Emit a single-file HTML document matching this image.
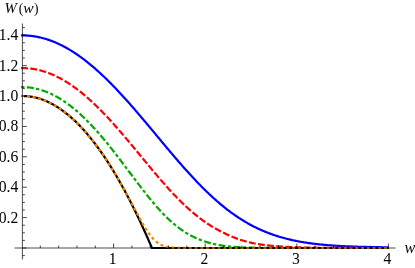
<!DOCTYPE html>
<html><head><meta charset="utf-8"><style>
html,body{margin:0;padding:0;background:#fff;}
svg{display:block;will-change:transform;}
text{font-family:"Liberation Serif",serif;font-size:15px;fill:#000;}
</style></head><body>
<svg width="415" height="268" viewBox="0 0 415 268">
<rect width="415" height="268" fill="#fff"/>
<g fill="none" stroke-width="2.2" stroke-linejoin="round">
<path d="M21.13 35.43 L22.05 35.42 L22.96 35.42 L23.88 35.43 L24.80 35.45 L25.72 35.49 L26.64 35.53 L27.56 35.59 L28.48 35.65 L29.40 35.73 L30.31 35.82 L31.23 35.92 L32.15 36.03 L33.07 36.15 L33.99 36.29 L34.91 36.43 L35.83 36.58 L36.75 36.75 L37.66 36.93 L38.58 37.12 L39.50 37.31 L40.42 37.52 L41.34 37.75 L42.26 37.98 L43.18 38.22 L44.10 38.47 L45.01 38.74 L45.93 39.01 L46.85 39.30 L47.77 39.59 L48.69 39.90 L49.61 40.22 L50.53 40.55 L51.45 40.89 L52.36 41.24 L53.28 41.60 L54.20 41.97 L55.12 42.35 L56.04 42.75 L56.96 43.15 L57.88 43.56 L58.80 43.99 L59.71 44.42 L60.63 44.87 L61.55 45.32 L62.47 45.79 L63.39 46.26 L64.31 46.75 L65.23 47.24 L66.14 47.75 L67.06 48.27 L67.98 48.79 L68.90 49.33 L69.82 49.87 L70.74 50.43 L71.66 51.00 L72.58 51.57 L73.49 52.16 L74.41 52.75 L75.33 53.36 L76.25 53.97 L77.17 54.60 L78.09 55.23 L79.01 55.87 L79.93 56.53 L80.84 57.19 L81.76 57.86 L82.68 58.54 L83.60 59.23 L84.52 59.93 L85.44 60.64 L86.36 61.35 L87.28 62.08 L88.19 62.81 L89.11 63.55 L90.03 64.30 L90.95 65.07 L91.87 65.83 L92.79 66.61 L93.71 67.40 L94.63 68.19 L95.54 68.99 L96.46 69.80 L97.38 70.62 L98.30 71.45 L99.22 72.28 L100.14 73.12 L101.06 73.97 L101.98 74.83 L102.89 75.69 L103.81 76.56 L104.73 77.44 L105.65 78.33 L106.57 79.22 L107.49 80.12 L108.41 81.03 L109.33 81.95 L110.24 82.87 L111.16 83.80 L112.08 84.73 L113.00 85.67 L113.92 86.62 L114.84 87.57 L115.76 88.53 L116.68 89.50 L117.59 90.47 L118.51 91.45 L119.43 92.43 L120.35 93.42 L121.27 94.41 L122.19 95.41 L123.11 96.42 L124.03 97.43 L124.94 98.44 L125.86 99.46 L126.78 100.49 L127.70 101.52 L128.62 102.55 L129.54 103.59 L130.46 104.63 L131.37 105.68 L132.29 106.73 L133.21 107.78 L134.13 108.84 L135.05 109.90 L135.97 110.97 L136.89 112.04 L137.81 113.11 L138.72 114.18 L139.64 115.26 L140.56 116.34 L141.48 117.42 L142.40 118.51 L143.32 119.60 L144.24 120.69 L145.16 121.78 L146.07 122.87 L146.99 123.97 L147.91 125.06 L148.83 126.16 L149.75 127.26 L150.67 128.36 L151.59 129.46 L152.51 130.57 L153.42 131.67 L154.34 132.78 L155.26 133.88 L156.18 134.98 L157.10 136.09 L158.02 137.19 L158.94 138.30 L159.86 139.40 L160.77 140.50 L161.69 141.61 L162.61 142.71 L163.53 143.81 L164.45 144.91 L165.37 146.01 L166.29 147.10 L167.21 148.20 L168.12 149.29 L169.04 150.38 L169.96 151.47 L170.88 152.56 L171.80 153.65 L172.72 154.73 L173.64 155.81 L174.56 156.88 L175.47 157.96 L176.39 159.03 L177.31 160.09 L178.23 161.16 L179.15 162.22 L180.07 163.27 L180.99 164.33 L181.91 165.38 L182.82 166.42 L183.74 167.46 L184.66 168.49 L185.58 169.53 L186.50 170.55 L187.42 171.57 L188.34 172.59 L189.26 173.60 L190.17 174.61 L191.09 175.61 L192.01 176.60 L192.93 177.59 L193.85 178.57 L194.77 179.55 L195.69 180.52 L196.60 181.49 L197.52 182.45 L198.44 183.40 L199.36 184.35 L200.28 185.29 L201.20 186.22 L202.12 187.15 L203.04 188.06 L203.95 188.98 L204.87 189.88 L205.79 190.78 L206.71 191.67 L207.63 192.56 L208.55 193.43 L209.47 194.30 L210.39 195.16 L211.30 196.02 L212.22 196.86 L213.14 197.70 L214.06 198.53 L214.98 199.35 L215.90 200.17 L216.82 200.97 L217.74 201.77 L218.65 202.56 L219.57 203.35 L220.49 204.12 L221.41 204.89 L222.33 205.64 L223.25 206.39 L224.17 207.13 L225.09 207.87 L226.00 208.59 L226.92 209.30 L227.84 210.01 L228.76 210.71 L229.68 211.40 L230.60 212.08 L231.52 212.76 L232.44 213.42 L233.35 214.08 L234.27 214.72 L235.19 215.36 L236.11 215.99 L237.03 216.62 L237.95 217.23 L238.87 217.84 L239.79 218.43 L240.70 219.02 L241.62 219.60 L242.54 220.17 L243.46 220.74 L244.38 221.29 L245.30 221.84 L246.22 222.38 L247.14 222.91 L248.05 223.43 L248.97 223.94 L249.89 224.45 L250.81 224.95 L251.73 225.44 L252.65 225.92 L253.57 226.40 L254.49 226.86 L255.40 227.32 L256.32 227.77 L257.24 228.21 L258.16 228.65 L259.08 229.08 L260.00 229.50 L260.92 229.91 L261.83 230.32 L262.75 230.72 L263.67 231.11 L264.59 231.49 L265.51 231.87 L266.43 232.24 L267.35 232.60 L268.27 232.96 L269.18 233.31 L270.10 233.65 L271.02 233.99 L271.94 234.32 L272.86 234.64 L273.78 234.96 L274.70 235.27 L275.62 235.57 L276.53 235.87 L277.45 236.16 L278.37 236.45 L279.29 236.73 L280.21 237.00 L281.13 237.27 L282.05 237.54 L282.97 237.79 L283.88 238.04 L284.80 238.29 L285.72 238.53 L286.64 238.77 L287.56 239.00 L288.48 239.22 L289.40 239.44 L290.32 239.66 L291.23 239.87 L292.15 240.07 L293.07 240.28 L293.99 240.47 L294.91 240.66 L295.83 240.85 L296.75 241.03 L297.67 241.21 L298.58 241.39 L299.50 241.56 L300.42 241.72 L301.34 241.88 L302.26 242.04 L303.18 242.20 L304.10 242.35 L305.02 242.49 L305.93 242.64 L306.85 242.78 L307.77 242.91 L308.69 243.04 L309.61 243.17 L310.53 243.30 L311.45 243.42 L312.37 243.54 L313.28 243.66 L314.20 243.77 L315.12 243.88 L316.04 243.99 L316.96 244.10 L317.88 244.20 L318.80 244.30 L319.72 244.39 L320.63 244.49 L321.55 244.58 L322.47 244.67 L323.39 244.76 L324.31 244.84 L325.23 244.92 L326.15 245.00 L327.06 245.08 L327.98 245.16 L328.90 245.23 L329.82 245.30 L330.74 245.37 L331.66 245.44 L332.58 245.50 L333.50 245.57 L334.41 245.63 L335.33 245.69 L336.25 245.75 L337.17 245.81 L338.09 245.86 L339.01 245.92 L339.93 245.97 L340.85 246.02 L341.76 246.07 L342.68 246.12 L343.60 246.16 L344.52 246.21 L345.44 246.25 L346.36 246.30 L347.28 246.34 L348.20 246.38 L349.11 246.42 L350.03 246.45 L350.95 246.49 L351.87 246.53 L352.79 246.56 L353.71 246.59 L354.63 246.63 L355.55 246.66 L356.46 246.69 L357.38 246.72 L358.30 246.75 L359.22 246.78 L360.14 246.80 L361.06 246.83 L361.98 246.85 L362.90 246.88 L363.81 246.90 L364.73 246.93 L365.65 246.95 L366.57 246.97 L367.49 246.99 L368.41 247.01 L369.33 247.03 L370.25 247.05 L371.16 247.07 L372.08 247.09 L373.00 247.10 L373.92 247.12 L374.84 247.14 L375.76 247.15 L376.68 247.17 L377.60 247.18 L378.51 247.20 L379.43 247.21 L380.35 247.22 L381.27 247.24 L382.19 247.25 L383.11 247.26 L384.03 247.27 L384.95 247.29 L385.86 247.30 L386.78 247.31 L387.70 247.32 L388.62 247.33" stroke="#0000ff"/>
<path d="M21.13 68.12 L22.05 68.11 L22.96 68.11 L23.88 68.12 L24.80 68.15 L25.72 68.18 L26.64 68.23 L27.56 68.29 L28.48 68.37 L29.40 68.45 L30.31 68.55 L31.23 68.66 L32.15 68.79 L33.07 68.92 L33.99 69.07 L34.91 69.23 L35.83 69.40 L36.75 69.58 L37.66 69.78 L38.58 69.99 L39.50 70.21 L40.42 70.44 L41.34 70.69 L42.26 70.94 L43.18 71.21 L44.10 71.49 L45.01 71.79 L45.93 72.09 L46.85 72.41 L47.77 72.74 L48.69 73.08 L49.61 73.43 L50.53 73.80 L51.45 74.17 L52.36 74.56 L53.28 74.96 L54.20 75.37 L55.12 75.80 L56.04 76.23 L56.96 76.68 L57.88 77.14 L58.80 77.61 L59.71 78.09 L60.63 78.58 L61.55 79.09 L62.47 79.60 L63.39 80.13 L64.31 80.67 L65.23 81.21 L66.14 81.78 L67.06 82.35 L67.98 82.93 L68.90 83.52 L69.82 84.13 L70.74 84.74 L71.66 85.37 L72.58 86.00 L73.49 86.65 L74.41 87.31 L75.33 87.98 L76.25 88.66 L77.17 89.35 L78.09 90.05 L79.01 90.76 L79.93 91.48 L80.84 92.21 L81.76 92.95 L82.68 93.70 L83.60 94.46 L84.52 95.23 L85.44 96.00 L86.36 96.79 L87.28 97.59 L88.19 98.40 L89.11 99.22 L90.03 100.04 L90.95 100.88 L91.87 101.72 L92.79 102.57 L93.71 103.44 L94.63 104.31 L95.54 105.19 L96.46 106.07 L97.38 106.97 L98.30 107.87 L99.22 108.78 L100.14 109.70 L101.06 110.63 L101.98 111.57 L102.89 112.51 L103.81 113.46 L104.73 114.42 L105.65 115.38 L106.57 116.36 L107.49 117.34 L108.41 118.32 L109.33 119.31 L110.24 120.31 L111.16 121.32 L112.08 122.33 L113.00 123.35 L113.92 124.37 L114.84 125.40 L115.76 126.43 L116.68 127.47 L117.59 128.52 L118.51 129.57 L119.43 130.62 L120.35 131.68 L121.27 132.75 L122.19 133.81 L123.11 134.89 L124.03 135.96 L124.94 137.04 L125.86 138.13 L126.78 139.21 L127.70 140.30 L128.62 141.40 L129.54 142.49 L130.46 143.59 L131.37 144.69 L132.29 145.80 L133.21 146.90 L134.13 148.01 L135.05 149.12 L135.97 150.23 L136.89 151.34 L137.81 152.45 L138.72 153.56 L139.64 154.68 L140.56 155.79 L141.48 156.90 L142.40 158.02 L143.32 159.13 L144.24 160.24 L145.16 161.35 L146.07 162.47 L146.99 163.57 L147.91 164.68 L148.83 165.79 L149.75 166.89 L150.67 167.99 L151.59 169.09 L152.51 170.19 L153.42 171.28 L154.34 172.38 L155.26 173.46 L156.18 174.55 L157.10 175.63 L158.02 176.70 L158.94 177.77 L159.86 178.84 L160.77 179.90 L161.69 180.96 L162.61 182.02 L163.53 183.06 L164.45 184.10 L165.37 185.14 L166.29 186.17 L167.21 187.19 L168.12 188.21 L169.04 189.22 L169.96 190.23 L170.88 191.22 L171.80 192.21 L172.72 193.20 L173.64 194.17 L174.56 195.14 L175.47 196.10 L176.39 197.05 L177.31 197.99 L178.23 198.93 L179.15 199.86 L180.07 200.77 L180.99 201.68 L181.91 202.58 L182.82 203.47 L183.74 204.36 L184.66 205.23 L185.58 206.09 L186.50 206.94 L187.42 207.79 L188.34 208.62 L189.26 209.44 L190.17 210.26 L191.09 211.06 L192.01 211.86 L192.93 212.64 L193.85 213.41 L194.77 214.17 L195.69 214.93 L196.60 215.67 L197.52 216.40 L198.44 217.12 L199.36 217.83 L200.28 218.53 L201.20 219.22 L202.12 219.89 L203.04 220.56 L203.95 221.22 L204.87 221.86 L205.79 222.50 L206.71 223.12 L207.63 223.74 L208.55 224.34 L209.47 224.93 L210.39 225.51 L211.30 226.08 L212.22 226.65 L213.14 227.20 L214.06 227.74 L214.98 228.27 L215.90 228.79 L216.82 229.29 L217.74 229.79 L218.65 230.28 L219.57 230.76 L220.49 231.24 L221.41 231.71 L222.33 232.17 L223.25 232.63 L224.17 233.08 L225.09 233.52 L226.00 233.96 L226.92 234.39 L227.84 234.81 L228.76 235.23 L229.68 235.63 L230.60 236.03 L231.52 236.43 L232.44 236.81 L233.35 237.18 L234.27 237.55 L235.19 237.91 L236.11 238.26 L237.03 238.60 L237.95 238.93 L238.87 239.26 L239.79 239.57 L240.70 239.88 L241.62 240.17 L242.54 240.46 L243.46 240.74 L244.38 241.01 L245.30 241.27 L246.22 241.53 L247.14 241.77 L248.05 242.01 L248.97 242.24 L249.89 242.46 L250.81 242.68 L251.73 242.88 L252.65 243.08 L253.57 243.27 L254.49 243.46 L255.40 243.63 L256.32 243.80 L257.24 243.96 L258.16 244.12 L259.08 244.27 L260.00 244.41 L260.92 244.55 L261.83 244.68 L262.75 244.81 L263.67 244.93 L264.59 245.04 L265.51 245.15 L266.43 245.25 L267.35 245.36 L268.27 245.46 L269.18 245.55 L270.10 245.64 L271.02 245.73 L271.94 245.82 L272.86 245.90 L273.78 245.98 L274.70 246.06 L275.62 246.13 L276.53 246.20 L277.45 246.27 L278.37 246.34 L279.29 246.41 L280.21 246.47 L281.13 246.53 L282.05 246.59 L282.97 246.64 L283.88 246.70 L284.80 246.75 L285.72 246.80 L286.64 246.85 L287.56 246.89 L288.48 246.94 L289.40 246.98 L290.32 247.02 L291.23 247.06 L292.15 247.10 L293.07 247.14 L293.99 247.17 L294.91 247.21 L295.83 247.24 L296.75 247.27 L297.67 247.30 L298.58 247.33 L299.50 247.36 L300.42 247.39 L301.34 247.41 L302.26 247.44 L303.18 247.46 L304.10 247.49 L305.02 247.51 L305.93 247.53 L306.85 247.55 L307.77 247.57 L308.69 247.59 L309.61 247.61 L310.53 247.62 L311.45 247.64 L312.37 247.66 L313.28 247.67 L314.20 247.69 L315.12 247.70 L316.04 247.71 L316.96 247.73 L317.88 247.74 L318.80 247.75 L319.72 247.76 L320.63 247.77 L321.55 247.78 L322.47 247.79 L323.39 247.80 L324.31 247.81 L325.23 247.82 L326.15 247.83 L327.06 247.84 L327.98 247.84 L328.90 247.85 L329.82 247.86 L330.74 247.87 L331.66 247.87 L332.58 247.88 L333.50 247.88 L334.41 247.89 L335.33 247.89 L336.25 247.90 L337.17 247.90 L338.09 247.91 L339.01 247.91 L339.93 247.92 L340.85 247.92 L341.76 247.93 L342.68 247.93 L343.60 247.93 L344.52 247.94 L345.44 247.94 L346.36 247.94 L347.28 247.94 L348.20 247.95 L349.11 247.95 L350.03 247.95 L350.95 247.96 L351.87 247.96 L352.79 247.96 L353.71 247.96 L354.63 247.96 L355.55 247.97 L356.46 247.97 L357.38 247.97 L358.30 247.97 L359.22 247.97 L360.14 247.97 L361.06 247.97 L361.98 247.98 L362.90 247.98 L363.81 247.98 L364.73 247.98 L365.65 247.98 L366.57 247.98 L367.49 247.98 L368.41 247.98 L369.33 247.98 L370.25 247.99 L371.16 247.99 L372.08 247.99 L373.00 247.99 L373.92 247.99 L374.84 247.99 L375.76 247.99 L376.68 247.99 L377.60 247.99 L378.51 247.99 L379.43 247.99 L380.35 247.99 L381.27 247.99 L382.19 247.99 L383.11 247.99 L384.03 247.99 L384.95 247.99 L385.86 247.99 L386.78 247.99 L387.70 247.99 L388.62 248.00" stroke="#ff0000" stroke-dasharray="6.9 2.3"/>
<path d="M21.13 87.15 L22.05 87.13 L22.96 87.13 L23.88 87.15 L24.80 87.17 L25.72 87.22 L26.64 87.27 L27.56 87.34 L28.48 87.43 L29.40 87.53 L30.31 87.64 L31.23 87.76 L32.15 87.90 L33.07 88.06 L33.99 88.23 L34.91 88.41 L35.83 88.60 L36.75 88.81 L37.66 89.04 L38.58 89.27 L39.50 89.53 L40.42 89.79 L41.34 90.07 L42.26 90.36 L43.18 90.67 L44.10 90.99 L45.01 91.32 L45.93 91.67 L46.85 92.03 L47.77 92.41 L48.69 92.80 L49.61 93.20 L50.53 93.62 L51.45 94.05 L52.36 94.49 L53.28 94.95 L54.20 95.42 L55.12 95.90 L56.04 96.40 L56.96 96.91 L57.88 97.43 L58.80 97.97 L59.71 98.52 L60.63 99.09 L61.55 99.66 L62.47 100.25 L63.39 100.86 L64.31 101.47 L65.23 102.10 L66.14 102.74 L67.06 103.40 L67.98 104.07 L68.90 104.75 L69.82 105.44 L70.74 106.15 L71.66 106.87 L72.58 107.60 L73.49 108.34 L74.41 109.10 L75.33 109.87 L76.25 110.65 L77.17 111.44 L78.09 112.24 L79.01 113.06 L79.93 113.89 L80.84 114.73 L81.76 115.58 L82.68 116.44 L83.60 117.32 L84.52 118.20 L85.44 119.10 L86.36 120.01 L87.28 120.93 L88.19 121.86 L89.11 122.80 L90.03 123.75 L90.95 124.72 L91.87 125.69 L92.79 126.67 L93.71 127.67 L94.63 128.67 L95.54 129.68 L96.46 130.71 L97.38 131.74 L98.30 132.78 L99.22 133.83 L100.14 134.89 L101.06 135.96 L101.98 137.04 L102.89 138.13 L103.81 139.22 L104.73 140.32 L105.65 141.44 L106.57 142.55 L107.49 143.68 L108.41 144.81 L109.33 145.95 L110.24 147.10 L111.16 148.25 L112.08 149.41 L113.00 150.58 L113.92 151.75 L114.84 152.93 L115.76 154.11 L116.68 155.30 L117.59 156.49 L118.51 157.69 L119.43 158.89 L120.35 160.09 L121.27 161.30 L122.19 162.51 L123.11 163.72 L124.03 164.94 L124.94 166.16 L125.86 167.38 L126.78 168.60 L127.70 169.82 L128.62 171.05 L129.54 172.27 L130.46 173.49 L131.37 174.72 L132.29 175.94 L133.21 177.16 L134.13 178.38 L135.05 179.60 L135.97 180.82 L136.89 182.03 L137.81 183.24 L138.72 184.45 L139.64 185.65 L140.56 186.85 L141.48 188.04 L142.40 189.23 L143.32 190.41 L144.24 191.59 L145.16 192.76 L146.07 193.92 L146.99 195.08 L147.91 196.22 L148.83 197.36 L149.75 198.50 L150.67 199.62 L151.59 200.73 L152.51 201.83 L153.42 202.93 L154.34 204.01 L155.26 205.08 L156.18 206.14 L157.10 207.19 L158.02 208.22 L158.94 209.25 L159.86 210.26 L160.77 211.25 L161.69 212.24 L162.61 213.21 L163.53 214.17 L164.45 215.11 L165.37 216.04 L166.29 216.95 L167.21 217.85 L168.12 218.73 L169.04 219.60 L169.96 220.46 L170.88 221.29 L171.80 222.11 L172.72 222.92 L173.64 223.71 L174.56 224.48 L175.47 225.24 L176.39 225.98 L177.31 226.71 L178.23 227.42 L179.15 228.11 L180.07 228.79 L180.99 229.45 L181.91 230.09 L182.82 230.72 L183.74 231.34 L184.66 231.93 L185.58 232.51 L186.50 233.08 L187.42 233.63 L188.34 234.17 L189.26 234.68 L190.17 235.19 L191.09 235.68 L192.01 236.16 L192.93 236.62 L193.85 237.06 L194.77 237.50 L195.69 237.92 L196.60 238.32 L197.52 238.72 L198.44 239.10 L199.36 239.47 L200.28 239.84 L201.20 240.19 L202.12 240.53 L203.04 240.86 L203.95 241.18 L204.87 241.49 L205.79 241.79 L206.71 242.08 L207.63 242.36 L208.55 242.63 L209.47 242.89 L210.39 243.14 L211.30 243.38 L212.22 243.61 L213.14 243.83 L214.06 244.04 L214.98 244.24 L215.90 244.44 L216.82 244.63 L217.74 244.80 L218.65 244.98 L219.57 245.14 L220.49 245.29 L221.41 245.44 L222.33 245.58 L223.25 245.72 L224.17 245.84 L225.09 245.96 L226.00 246.08 L226.92 246.19 L227.84 246.29 L228.76 246.39 L229.68 246.48 L230.60 246.57 L231.52 246.65 L232.44 246.73 L233.35 246.80 L234.27 246.87 L235.19 246.94 L236.11 247.00 L237.03 247.06 L237.95 247.11 L238.87 247.16 L239.79 247.21 L240.70 247.26 L241.62 247.30 L242.54 247.34 L243.46 247.38 L244.38 247.41 L245.30 247.45 L246.22 247.48 L247.14 247.51 L248.05 247.54 L248.97 247.56 L249.89 247.59 L250.81 247.61 L251.73 247.64 L252.65 247.66 L253.57 247.68 L254.49 247.70 L255.40 247.72 L256.32 247.73 L257.24 247.75 L258.16 247.76 L259.08 247.78 L260.00 247.79 L260.92 247.81 L261.83 247.82 L262.75 247.83 L263.67 247.84 L264.59 247.85 L265.51 247.86 L266.43 247.87 L267.35 247.88 L268.27 247.88 L269.18 247.89 L270.10 247.90 L271.02 247.90 L271.94 247.91 L272.86 247.92 L273.78 247.92 L274.70 247.93 L275.62 247.93 L276.53 247.94 L277.45 247.94 L278.37 247.94 L279.29 247.95 L280.21 247.95 L281.13 247.95 L282.05 247.96 L282.97 247.96 L283.88 247.96 L284.80 247.97 L285.72 247.97 L286.64 247.97 L287.56 247.97 L288.48 247.97 L289.40 247.98 L290.32 247.98 L291.23 247.98 L292.15 247.98 L293.07 247.98 L293.99 247.98 L294.91 247.98 L295.83 247.99 L296.75 247.99 L297.67 247.99 L298.58 247.99 L299.50 247.99 L300.42 247.99 L301.34 247.99 L302.26 247.99 L303.18 247.99 L304.10 247.99 L305.02 247.99 L305.93 247.99 L306.85 247.99 L307.77 247.99 L308.69 247.99 L309.61 248.00 L310.53 248.00 L311.45 248.00 L312.37 248.00 L313.28 248.00 L314.20 248.00 L315.12 248.00 L316.04 248.00 L316.96 248.00 L317.88 248.00 L318.80 248.00 L319.72 248.00 L320.63 248.00 L321.55 248.00 L322.47 248.00 L323.39 248.00 L324.31 248.00 L325.23 248.00 L326.15 248.00 L327.06 248.00 L327.98 248.00 L328.90 248.00 L329.82 248.00 L330.74 248.00 L331.66 248.00 L332.58 248.00 L333.50 248.00 L334.41 248.00 L335.33 248.00 L336.25 248.00 L337.17 248.00 L338.09 248.00 L339.01 248.00 L339.93 248.00 L340.85 248.00 L341.76 248.00 L342.68 248.00 L343.60 248.00 L344.52 248.00 L345.44 248.00 L346.36 248.00 L347.28 248.00 L348.20 248.00 L349.11 248.00 L350.03 248.00 L350.95 248.00 L351.87 248.00 L352.79 248.00 L353.71 248.00 L354.63 248.00 L355.55 248.00 L356.46 248.00 L357.38 248.00 L358.30 248.00 L359.22 248.00 L360.14 248.00 L361.06 248.00 L361.98 248.00 L362.90 248.00 L363.81 248.00 L364.73 248.00 L365.65 248.00 L366.57 248.00 L367.49 248.00 L368.41 248.00 L369.33 248.00 L370.25 248.00 L371.16 248.00 L372.08 248.00 L373.00 248.00 L373.92 248.00 L374.84 248.00 L375.76 248.00 L376.68 248.00 L377.60 248.00 L378.51 248.00 L379.43 248.00 L380.35 248.00 L381.27 248.00 L382.19 248.00 L383.11 248.00 L384.03 248.00 L384.95 248.00 L385.86 248.00 L386.78 248.00 L387.70 248.00 L388.62 248.00" stroke="#00aa00" stroke-dasharray="3.3 2.4 7 2.33"/>
<path d="M21.13 96.02 L21.78 96.00 L22.44 96.00 L23.10 96.00 L23.76 96.01 L24.41 96.03 L25.07 96.06 L25.73 96.09 L26.39 96.14 L27.04 96.19 L27.70 96.25 L28.36 96.31 L29.02 96.39 L29.67 96.47 L30.33 96.56 L30.99 96.65 L31.64 96.76 L32.30 96.87 L32.96 96.99 L33.62 97.12 L34.27 97.26 L34.93 97.40 L35.59 97.55 L36.25 97.71 L36.90 97.88 L37.56 98.06 L38.22 98.24 L38.88 98.43 L39.53 98.63 L40.19 98.84 L40.85 99.05 L41.51 99.28 L42.16 99.51 L42.82 99.75 L43.48 99.99 L44.13 100.25 L44.79 100.51 L45.45 100.78 L46.11 101.06 L46.76 101.34 L47.42 101.63 L48.08 101.94 L48.74 102.24 L49.39 102.56 L50.05 102.89 L50.71 103.22 L51.37 103.56 L52.02 103.91 L52.68 104.26 L53.34 104.63 L54.00 105.00 L54.65 105.38 L55.31 105.77 L55.97 106.16 L56.62 106.56 L57.28 106.97 L57.94 107.39 L58.60 107.82 L59.25 108.25 L59.91 108.70 L60.57 109.15 L61.23 109.61 L61.88 110.07 L62.54 110.54 L63.20 111.03 L63.86 111.52 L64.51 112.01 L65.17 112.52 L65.83 113.03 L66.49 113.55 L67.14 114.08 L67.80 114.62 L68.46 115.16 L69.11 115.71 L69.77 116.27 L70.43 116.84 L71.09 117.42 L71.74 118.00 L72.40 118.59 L73.06 119.19 L73.72 119.80 L74.37 120.41 L75.03 121.03 L75.69 121.66 L76.35 122.30 L77.00 122.95 L77.66 123.60 L78.32 124.26 L78.98 124.93 L79.63 125.61 L80.29 126.30 L80.95 126.99 L81.60 127.69 L82.26 128.40 L82.92 129.12 L83.58 129.84 L84.23 130.57 L84.89 131.31 L85.55 132.06 L86.21 132.82 L86.86 133.58 L87.52 134.35 L88.18 135.13 L88.84 135.92 L89.49 136.71 L90.15 137.52 L90.81 138.33 L91.47 139.15 L92.12 139.97 L92.78 140.81 L93.44 141.65 L94.09 142.50 L94.75 143.36 L95.41 144.22 L96.07 145.10 L96.72 145.98 L97.38 146.87 L98.04 147.76 L98.70 148.67 L99.35 149.58 L100.01 150.50 L100.67 151.43 L101.33 152.37 L101.98 153.31 L102.64 154.26 L103.30 155.22 L103.96 156.19 L104.61 157.17 L105.27 158.15 L105.93 159.14 L106.58 160.14 L107.24 161.15 L107.90 162.16 L108.56 163.18 L109.21 164.21 L109.87 165.25 L110.53 166.30 L111.19 167.35 L111.84 168.41 L112.50 169.48 L113.16 170.56 L113.82 171.64 L114.47 172.74 L115.13 173.84 L115.79 174.95 L116.45 176.06 L117.10 177.19 L117.76 178.32 L118.42 179.46 L119.07 180.61 L119.73 181.76 L120.39 182.93 L121.05 184.10 L121.70 185.28 L122.36 186.47 L123.02 187.66 L123.68 188.86 L124.33 190.07 L124.99 191.29 L125.65 192.52 L126.31 193.75 L126.96 194.99 L127.62 196.24 L128.28 197.50 L128.94 198.77 L129.59 200.04 L130.25 201.32 L130.91 202.61 L131.56 203.91 L132.22 205.21 L132.88 206.53 L133.54 207.85 L134.19 209.17 L134.85 210.51 L135.51 211.85 L136.17 213.21 L136.82 214.57 L137.48 215.93 L138.14 217.31 L138.80 218.69 L139.45 220.08 L140.11 221.48 L140.77 222.89 L141.43 224.30 L142.08 225.72 L142.74 227.15 L143.40 228.59 L144.05 230.04 L144.71 231.49 L145.37 232.95 L146.03 234.42 L146.68 235.90 L147.34 237.39 L148.00 238.88 L148.66 240.38 L149.31 241.89 L149.97 243.40 L150.63 244.93 L151.29 246.46 L151.94 248.00 L388.62 248.00" stroke="#000000" stroke-width="2.2"/>
<path d="M21.13 96.02 L22.05 96.00 L22.96 96.00 L23.88 96.02 L24.80 96.05 L25.72 96.09 L26.64 96.15 L27.56 96.23 L28.48 96.32 L29.40 96.43 L30.31 96.55 L31.23 96.69 L32.15 96.84 L33.07 97.01 L33.99 97.20 L34.91 97.40 L35.83 97.61 L36.75 97.84 L37.66 98.09 L38.58 98.35 L39.50 98.62 L40.42 98.91 L41.34 99.22 L42.26 99.54 L43.18 99.88 L44.10 100.23 L45.01 100.60 L45.93 100.98 L46.85 101.38 L47.77 101.79 L48.69 102.22 L49.61 102.67 L50.53 103.12 L51.45 103.60 L52.36 104.09 L53.28 104.59 L54.20 105.12 L55.12 105.65 L56.04 106.20 L56.96 106.77 L57.88 107.35 L58.80 107.95 L59.71 108.56 L60.63 109.19 L61.55 109.83 L62.47 110.49 L63.39 111.16 L64.31 111.85 L65.23 112.56 L66.14 113.28 L67.06 114.01 L67.98 114.76 L68.90 115.53 L69.82 116.31 L70.74 117.11 L71.66 117.92 L72.58 118.75 L73.49 119.59 L74.41 120.44 L75.33 121.32 L76.25 122.21 L77.17 123.11 L78.09 124.03 L79.01 124.96 L79.93 125.91 L80.84 126.88 L81.76 127.86 L82.68 128.85 L83.60 129.86 L84.52 130.89 L85.44 131.93 L86.36 132.98 L87.28 134.06 L88.19 135.14 L89.11 136.24 L90.03 137.36 L90.95 138.49 L91.87 139.64 L92.79 140.80 L93.71 141.98 L94.63 143.18 L95.54 144.38 L96.46 145.61 L97.38 146.85 L98.30 148.10 L99.22 149.37 L100.14 150.66 L101.06 151.96 L101.98 153.27 L102.89 154.60 L103.81 155.94 L104.73 157.30 L105.65 158.68 L106.57 160.07 L107.49 161.47 L108.41 162.89 L109.33 164.33 L110.24 165.77 L111.16 167.24 L112.08 168.72 L113.00 170.21 L113.92 171.71 L114.84 173.24 L115.76 174.77 L116.68 176.32 L117.59 177.88 L118.51 179.46 L119.43 181.05 L120.35 182.65 L121.27 184.27 L122.19 185.89 L123.11 187.53 L124.03 189.18 L124.94 190.85 L125.86 192.52 L126.78 194.20 L127.70 195.89 L128.62 197.60 L129.54 199.30 L130.46 201.02 L131.37 202.74 L132.29 204.46 L133.21 206.19 L134.13 207.92 L135.05 209.64 L135.97 211.37 L136.89 213.09 L137.81 214.80 L138.72 216.50 L139.64 218.18 L140.56 219.85 L141.48 221.50 L142.40 223.12 L143.32 224.72 L144.24 226.28 L145.16 227.80 L146.07 229.28 L146.99 230.72 L147.91 232.10 L148.83 233.43 L149.75 234.70 L150.67 235.90 L151.59 237.04 L152.51 238.11 L153.42 239.11 L154.34 240.04 L155.26 240.90 L156.18 241.70 L157.10 242.42 L158.02 243.08 L158.94 243.67 L159.86 244.20 L160.77 244.68 L161.69 245.11 L162.61 245.49 L163.53 245.82 L164.45 246.12 L165.37 246.37 L166.29 246.60 L167.21 246.80 L168.12 246.97 L169.04 247.12 L169.96 247.25 L170.88 247.36 L171.80 247.45 L172.72 247.53 L173.64 247.60 L174.56 247.66 L175.47 247.71 L176.39 247.76 L177.31 247.80 L178.23 247.83 L179.15 247.85 L180.07 247.88 L180.99 247.90 L181.91 247.91 L182.82 247.93 L183.74 247.94 L184.66 247.95 L185.58 247.96 L186.50 247.96 L187.42 247.97 L188.34 247.98 L189.26 247.98 L190.17 247.98 L191.09 247.99 L192.01 247.99 L192.93 247.99 L193.85 247.99 L194.77 247.99 L195.69 247.99 L196.60 248.00 L197.52 248.00 L198.44 248.00 L199.36 248.00 L200.28 248.00 L201.20 248.00 L202.12 248.00 L203.04 248.00 L203.95 248.00 L204.87 248.00 L205.79 248.00 L206.71 248.00 L207.63 248.00 L208.55 248.00 L209.47 248.00 L210.39 248.00 L211.30 248.00 L212.22 248.00 L213.14 248.00 L214.06 248.00 L214.98 248.00 L215.90 248.00 L216.82 248.00 L217.74 248.00 L218.65 248.00 L219.57 248.00 L220.49 248.00 L221.41 248.00 L222.33 248.00 L223.25 248.00 L224.17 248.00 L225.09 248.00 L226.00 248.00 L226.92 248.00 L227.84 248.00 L228.76 248.00 L229.68 248.00 L230.60 248.00 L231.52 248.00 L232.44 248.00 L233.35 248.00 L234.27 248.00 L235.19 248.00 L236.11 248.00 L237.03 248.00 L237.95 248.00 L238.87 248.00 L239.79 248.00 L240.70 248.00 L241.62 248.00 L242.54 248.00 L243.46 248.00 L244.38 248.00 L245.30 248.00 L246.22 248.00 L247.14 248.00 L248.05 248.00 L248.97 248.00 L249.89 248.00 L250.81 248.00 L251.73 248.00 L252.65 248.00 L253.57 248.00 L254.49 248.00 L255.40 248.00 L256.32 248.00 L257.24 248.00 L258.16 248.00 L259.08 248.00 L260.00 248.00 L260.92 248.00 L261.83 248.00 L262.75 248.00 L263.67 248.00 L264.59 248.00 L265.51 248.00 L266.43 248.00 L267.35 248.00 L268.27 248.00 L269.18 248.00 L270.10 248.00 L271.02 248.00 L271.94 248.00 L272.86 248.00 L273.78 248.00 L274.70 248.00 L275.62 248.00 L276.53 248.00 L277.45 248.00 L278.37 248.00 L279.29 248.00 L280.21 248.00 L281.13 248.00 L282.05 248.00 L282.97 248.00 L283.88 248.00 L284.80 248.00 L285.72 248.00 L286.64 248.00 L287.56 248.00 L288.48 248.00 L289.40 248.00 L290.32 248.00 L291.23 248.00 L292.15 248.00 L293.07 248.00 L293.99 248.00 L294.91 248.00 L295.83 248.00 L296.75 248.00 L297.67 248.00 L298.58 248.00 L299.50 248.00 L300.42 248.00 L301.34 248.00 L302.26 248.00 L303.18 248.00 L304.10 248.00 L305.02 248.00 L305.93 248.00 L306.85 248.00 L307.77 248.00 L308.69 248.00 L309.61 248.00 L310.53 248.00 L311.45 248.00 L312.37 248.00 L313.28 248.00 L314.20 248.00 L315.12 248.00 L316.04 248.00 L316.96 248.00 L317.88 248.00 L318.80 248.00 L319.72 248.00 L320.63 248.00 L321.55 248.00 L322.47 248.00 L323.39 248.00 L324.31 248.00 L325.23 248.00 L326.15 248.00 L327.06 248.00 L327.98 248.00 L328.90 248.00 L329.82 248.00 L330.74 248.00 L331.66 248.00 L332.58 248.00 L333.50 248.00 L334.41 248.00 L335.33 248.00 L336.25 248.00 L337.17 248.00 L338.09 248.00 L339.01 248.00 L339.93 248.00 L340.85 248.00 L341.76 248.00 L342.68 248.00 L343.60 248.00 L344.52 248.00 L345.44 248.00 L346.36 248.00 L347.28 248.00 L348.20 248.00 L349.11 248.00 L350.03 248.00 L350.95 248.00 L351.87 248.00 L352.79 248.00 L353.71 248.00 L354.63 248.00 L355.55 248.00 L356.46 248.00 L357.38 248.00 L358.30 248.00 L359.22 248.00 L360.14 248.00 L361.06 248.00 L361.98 248.00 L362.90 248.00 L363.81 248.00 L364.73 248.00 L365.65 248.00 L366.57 248.00 L367.49 248.00 L368.41 248.00 L369.33 248.00 L370.25 248.00 L371.16 248.00 L372.08 248.00 L373.00 248.00 L373.92 248.00 L374.84 248.00 L375.76 248.00 L376.68 248.00 L377.60 248.00 L378.51 248.00 L379.43 248.00 L380.35 248.00 L381.27 248.00 L382.19 248.00 L383.11 248.00 L384.03 248.00 L384.95 248.00 L385.86 248.00 L386.78 248.00 L387.70 248.00 L388.62 248.00" stroke="#ff8000" stroke-dasharray="3 2.74" stroke-width="2.2"/>
</g>
<g stroke="#000" stroke-width="0.7" fill="none">
<line x1="14.5" y1="248.00" x2="395.5" y2="248.00"/>
<line x1="22.40" y1="23.5" x2="22.40" y2="259.5"/>
<line x1="40.32" y1="248.00" x2="40.32" y2="245.50"/>
<line x1="58.64" y1="248.00" x2="58.64" y2="245.50"/>
<line x1="76.96" y1="248.00" x2="76.96" y2="245.50"/>
<line x1="95.28" y1="248.00" x2="95.28" y2="245.50"/>
<line x1="113.60" y1="248.00" x2="113.60" y2="243.50"/>
<line x1="131.92" y1="248.00" x2="131.92" y2="245.50"/>
<line x1="150.24" y1="248.00" x2="150.24" y2="245.50"/>
<line x1="168.56" y1="248.00" x2="168.56" y2="245.50"/>
<line x1="186.88" y1="248.00" x2="186.88" y2="245.50"/>
<line x1="205.20" y1="248.00" x2="205.20" y2="243.50"/>
<line x1="223.52" y1="248.00" x2="223.52" y2="245.50"/>
<line x1="241.84" y1="248.00" x2="241.84" y2="245.50"/>
<line x1="260.16" y1="248.00" x2="260.16" y2="245.50"/>
<line x1="278.48" y1="248.00" x2="278.48" y2="245.50"/>
<line x1="296.80" y1="248.00" x2="296.80" y2="243.50"/>
<line x1="315.12" y1="248.00" x2="315.12" y2="245.50"/>
<line x1="333.44" y1="248.00" x2="333.44" y2="245.50"/>
<line x1="351.76" y1="248.00" x2="351.76" y2="245.50"/>
<line x1="370.08" y1="248.00" x2="370.08" y2="245.50"/>
<line x1="388.40" y1="248.00" x2="388.40" y2="243.50"/>
<line x1="22.40" y1="255.60" x2="24.90" y2="255.60"/>
<line x1="22.40" y1="248.00" x2="26.90" y2="248.00"/>
<line x1="22.40" y1="240.40" x2="24.90" y2="240.40"/>
<line x1="22.40" y1="232.80" x2="24.90" y2="232.80"/>
<line x1="22.40" y1="225.20" x2="24.90" y2="225.20"/>
<line x1="22.40" y1="217.60" x2="26.90" y2="217.60"/>
<line x1="22.40" y1="210.00" x2="24.90" y2="210.00"/>
<line x1="22.40" y1="202.40" x2="24.90" y2="202.40"/>
<line x1="22.40" y1="194.80" x2="24.90" y2="194.80"/>
<line x1="22.40" y1="187.20" x2="26.90" y2="187.20"/>
<line x1="22.40" y1="179.60" x2="24.90" y2="179.60"/>
<line x1="22.40" y1="172.00" x2="24.90" y2="172.00"/>
<line x1="22.40" y1="164.40" x2="24.90" y2="164.40"/>
<line x1="22.40" y1="156.80" x2="26.90" y2="156.80"/>
<line x1="22.40" y1="149.20" x2="24.90" y2="149.20"/>
<line x1="22.40" y1="141.60" x2="24.90" y2="141.60"/>
<line x1="22.40" y1="134.00" x2="24.90" y2="134.00"/>
<line x1="22.40" y1="126.40" x2="26.90" y2="126.40"/>
<line x1="22.40" y1="118.80" x2="24.90" y2="118.80"/>
<line x1="22.40" y1="111.20" x2="24.90" y2="111.20"/>
<line x1="22.40" y1="103.60" x2="24.90" y2="103.60"/>
<line x1="22.40" y1="96.00" x2="26.90" y2="96.00"/>
<line x1="22.40" y1="88.40" x2="24.90" y2="88.40"/>
<line x1="22.40" y1="80.80" x2="24.90" y2="80.80"/>
<line x1="22.40" y1="73.20" x2="24.90" y2="73.20"/>
<line x1="22.40" y1="65.60" x2="26.90" y2="65.60"/>
<line x1="22.40" y1="58.00" x2="24.90" y2="58.00"/>
<line x1="22.40" y1="50.40" x2="24.90" y2="50.40"/>
<line x1="22.40" y1="42.80" x2="24.90" y2="42.80"/>
<line x1="22.40" y1="35.20" x2="26.90" y2="35.20"/>
<line x1="22.40" y1="27.60" x2="24.90" y2="27.60"/>
</g>
<g>
<text transform="translate(18.30 222.50) scale(0.97 1)" text-anchor="end" style="font-size:16.2px">0.2</text>
<text transform="translate(18.30 192.10) scale(0.97 1)" text-anchor="end" style="font-size:16.2px">0.4</text>
<text transform="translate(18.30 161.70) scale(0.97 1)" text-anchor="end" style="font-size:16.2px">0.6</text>
<text transform="translate(18.30 131.30) scale(0.97 1)" text-anchor="end" style="font-size:16.2px">0.8</text>
<text transform="translate(18.30 100.90) scale(0.97 1)" text-anchor="end" style="font-size:16.2px">1.0</text>
<text transform="translate(18.30 70.50) scale(0.97 1)" text-anchor="end" style="font-size:16.2px">1.2</text>
<text transform="translate(18.30 40.10) scale(0.97 1)" text-anchor="end" style="font-size:16.2px">1.4</text>
<text transform="translate(112.70 264.30) scale(0.97 1)" text-anchor="middle" style="font-size:16.2px">1</text>
<text transform="translate(204.30 264.30) scale(0.97 1)" text-anchor="middle" style="font-size:16.2px">2</text>
<text transform="translate(295.90 264.30) scale(0.97 1)" text-anchor="middle" style="font-size:16.2px">3</text>
<text transform="translate(387.50 264.30) scale(0.97 1)" text-anchor="middle" style="font-size:16.2px">4</text>
<text x="4.5" y="12.5" font-style="italic" style="font-size:14.8px">W<tspan font-style="normal" dx="1.8" style="font-size:13.6px">(</tspan><tspan dx="0.1" style="font-size:15.6px">w</tspan><tspan font-style="normal" dx="0.4" style="font-size:13.6px">)</tspan></text>
<text x="404.6" y="252.8" font-style="italic" style="font-size:16.2px">w</text>
</g>
</svg>
</body></html>
